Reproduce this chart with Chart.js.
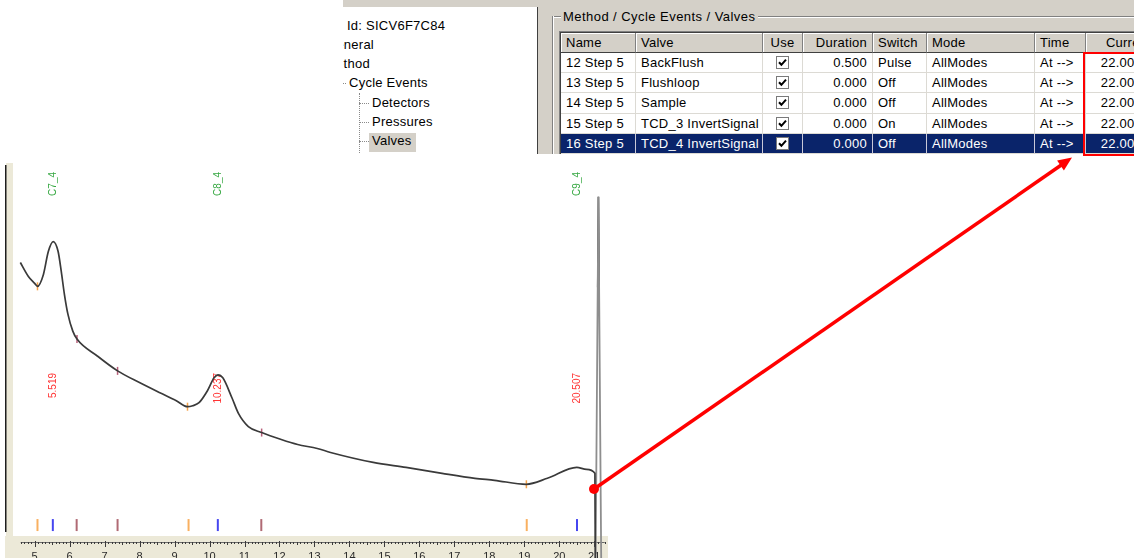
<!DOCTYPE html>
<html lang="en">
<head>
<meta charset="utf-8">
<title>Chromatogram – Method / Cycle Events / Valves</title>
<script src="https://cdn.jsdelivr.net/npm/chart.js@4.4.1/dist/chart.umd.min.js"></script>
<style>
  html, body { margin:0; padding:0; background:#fff; }
  body { position:relative; width:1134px; height:558px; overflow:hidden;
         font-family:"Liberation Sans", Arial, sans-serif; font-size:13px; color:#000; }
  .a { position:absolute; box-sizing:border-box; white-space:nowrap; }
  #dlg { left:343px; top:0; width:791px; height:154px; background:#d4d0c8; overflow:hidden; letter-spacing:0.25px; }
  #tree { left:0; top:7px; width:195px; height:147px; background:#fff; border-right:1px solid #404040; overflow:hidden; }
  .ti { line-height:16px; }
  .dv { border-left:1px dotted #8a8a8a; }
  .dh { border-top:1px dotted #8a8a8a; }
  .cell { display:flex; align-items:center; padding:0 5px; overflow:hidden; }
  #chartBox { left:5px; top:155px; width:611px; height:403px; }
  #redBox { left:1083px; top:52px; width:80px; height:104px; border:2px solid #ff0000; z-index:10; }
</style>
</head>
<body>

<div id="dlg" class="a">
  <div id="tree" class="a">
    <div class="a ti" style="left:4px;top:11px;">Id: SICV6F7C84</div>
    <div class="a ti" style="left:-17px;top:30px;">General</div>
    <div class="a ti" style="left:-18px;top:49px;">Method</div>
    <div class="a dh" style="left:0;top:76px;width:3px;height:1px;"></div>
    <div class="a ti" style="left:6px;top:68px;">Cycle Events</div>
    <div class="a dv" style="left:16px;top:86px;width:1px;height:70px;"></div>
    <div class="a dh" style="left:16px;top:96px;width:10px;height:1px;"></div>
    <div class="a dh" style="left:16px;top:115px;width:10px;height:1px;"></div>
    <div class="a dh" style="left:16px;top:134px;width:10px;height:1px;"></div>
    <div class="a" style="left:26px;top:126px;width:47px;height:19px;background:#d4d0c8;"></div>
    <div class="a ti" style="left:29px;top:88px;">Detectors</div>
    <div class="a ti" style="left:29px;top:107px;">Pressures</div>
    <div class="a ti" style="left:29px;top:126px;">Valves</div>
  </div>
  <!-- group box frame -->
  <div class="a" style="left:209px;top:16px;width:600px;height:2px;border-top:1px solid #808080;border-bottom:1px solid #fff;"></div>
  <div class="a" style="left:209px;top:16px;width:2px;height:150px;border-left:1px solid #808080;border-right:1px solid #fff;"></div>
  <div class="a ti" style="left:218px;top:9px;padding:0 3px 0 2px;background:#d4d0c8;letter-spacing:0.45px;">Method / Cycle Events / Valves</div>
  <!-- list view frame -->
  <div class="a" style="left:216px;top:31px;width:600px;height:130px;border-top:1px solid #808080;border-left:1px solid #808080;"></div>
  <div class="a" style="left:217px;top:32px;width:600px;height:130px;border-top:1px solid #404040;border-left:1px solid #404040;background:#fff;"></div>
</div>

<div id="chartBox" class="a"><canvas id="chrom" width="611" height="403" style="width:611px;height:403px;"></canvas></div>

<div id="redBox" class="a"></div>

<svg class="a" style="left:0;top:0;pointer-events:none;z-index:11;" width="1134" height="558">
  <line x1="594" y1="489" x2="1062" y2="164.5" stroke="#ff0000" stroke-width="3.5"/>
  <polygon points="1072,157.5 1057.1,160.6 1063.9,170.4" fill="#ff0000"/>
  <circle cx="594" cy="489" r="5" fill="#ff0000"/>
</svg>

<script>
// ---- valve event table ----
const tableHeaders = ['Name', 'Valve', 'Use', 'Duration', 'Switch', 'Mode', 'Time', 'Current'];
const stepNames    = ['12 Step 5', '13 Step 5', '14 Step 5', '15 Step 5', '16 Step 5'];
const valveNames   = ['BackFlush', 'Flushloop', 'Sample', 'TCD_3 InvertSignal', 'TCD_4 InvertSignal'];
const durations    = ['0.500', '0.000', '0.000', '0.000', '0.000'];
const switchStates = ['Pulse', 'Off', 'Off', 'On', 'Off'];
const modes        = ['AllModes', 'AllModes', 'AllModes', 'AllModes', 'AllModes'];
const timeRefs     = ['At -->', 'At -->', 'At -->', 'At -->', 'At -->'];
const currentTimes = ['22.000', '22.000', '22.000', '22.000', '22.000'];
const selectedRow  = 4;

// ---- chromatogram (time in min, detector signal) ----
const traceTime = [4.59, 4.82, 5.00, 5.08, 5.25, 5.39, 5.53, 5.67, 5.76, 5.85,
                   5.95, 6.09, 6.21, 6.79, 7.37, 8.01, 8.58, 9.05, 9.37, 9.52,
                   9.70, 9.94, 10.13, 10.24, 10.38, 10.64, 10.83, 11.11, 11.49, 12.05,
                   12.52, 13.08, 13.46, 14.68, 15.62, 16.65, 17.59, 18.15, 19.06, 19.66,
                   20.50, 20.78, 21.02, 21.03];
const traceSignal = [275, 261, 254, 251, 263, 286, 296, 286, 266, 243,
                     223, 206, 198, 181, 166, 154, 144, 136, 130, 131,
                     134, 146, 159, 162, 159, 139, 123, 110, 104, 97,
                     92, 88, 84, 74, 69, 63, 58, 56, 52, 58,
                     69, 67, 63, -24];
const spikeTime = [21.04, 21.12, 21.20];
const spikeSignal = [-25, 341, -25];
const spikeApexTime = [21.10, 21.12, 21.14];
const spikeApexSignal = [250, 341, 250];

const peakNames = ['C7_4', 'C8_4', 'C9_4'];
const peakTimes = [5.519, 10.237, 20.507];

const peakStartTimes = [5.08, 9.37, 19.06];
const peakStartSignal = [251, 130, 52];
const peakEndTimes = [6.21, 7.37, 11.49];
const peakEndSignal = [198, 166, 104];

const eventStartTimes = [5.08, 9.40, 19.07];
const eventEndTimes = [6.20, 7.37, 11.48];
const eventLevel = 11;

const timeMin = 4.38, timeMax = 21.394;
const signalMin = 0, signalMax = 375;

// ---- build the list view ----
(function buildTable() {
  const dlg = document.getElementById('dlg');
  const DX = 343;
  const colEdges = [561, 636, 763, 803, 873, 927, 1035, 1086, 1152];
  const colAlign = ['flex-start', 'flex-start', 'center', 'flex-end', 'flex-start', 'flex-start', 'flex-start', 'flex-end'];
  function el(x, y, w, h, style, text) {
    const d = document.createElement('div');
    d.className = 'a cell';
    Object.assign(d.style, { left: x + 'px', top: y + 'px', width: w + 'px', height: h + 'px' }, style);
    if (text != null) d.textContent = text;
    dlg.appendChild(d);
    return d;
  }
  tableHeaders.forEach((h, c) => {
    el(colEdges[c] - DX, 33, colEdges[c + 1] - colEdges[c], 19.5, {
      background: '#d4d0c8', borderRight: '1px solid #808080', borderBottom: '1px solid #404040',
      boxShadow: 'inset 1px 1px 0 #fff', justifyContent: colAlign[c],
      paddingRight: c === 7 ? '0px' : '5px'
    }, h);
  });
  const check = '<svg width="13" height="13"><rect x="0.5" y="0.5" width="12" height="12" fill="#fff" stroke="#7a7a7a"/>' +
                '<path d="M3 6.3 L5.4 8.8 L10 3.6" stroke="#000" stroke-width="2" fill="none"/></svg>';
  stepNames.forEach((name, i) => {
    const y = 52.5 + i * 20.4;
    const sel = i === selectedRow;
    const vals = [name, valveNames[i], null, durations[i], switchStates[i], modes[i], timeRefs[i], currentTimes[i]];
    vals.forEach((v, c) => {
      const d = el(colEdges[c] - DX, y, colEdges[c + 1] - colEdges[c], 20.4, {
        background: sel ? '#0a246a' : '#fff', color: sel ? '#fff' : '#000',
        borderRight: '1px solid ' + (sel ? '#c8c8d8' : '#dcdad4'),
        borderBottom: '1px solid #dcdad4', justifyContent: colAlign[c],
        paddingRight: c === 7 ? '9px' : '5px'
      }, v);
      if (c === 2) d.innerHTML = check;
    });
  });
})();

// ---- chart ----
const xy = (ts, vs) => ts.map((t, i) => ({ x: t, y: vs[i] }));
const level = ts => ts.map(t => ({ x: t, y: eventLevel }));

const frame = {
  id: 'frame',
  beforeDraw(chart) {
    const { ctx, chartArea: a, height } = chart;
    ctx.save();
    ctx.fillStyle = '#ece9d8';
    ctx.fillRect(0, a.bottom, a.right, height - a.bottom);
    ctx.fillRect(1, a.top, a.left - 1, a.bottom - a.top);
    ctx.fillStyle = '#1e1e1e';
    ctx.fillRect(0, a.top + 2, 1.5, a.bottom - a.top - 6);
    ctx.restore();
  }
};

const ruler = {
  id: 'ruler',
  beforeDatasetsDraw(chart) {
    const xs = chart.scales.x, a = chart.chartArea, ctx = chart.ctx;
    const y0 = a.bottom + 6;
    const x0 = xs.getPixelForValue(4.6), x1 = xs.getPixelForValue(21.3);
    ctx.save();
    ctx.strokeStyle = '#6a6a6a';
    ctx.lineWidth = 1;
    ctx.beginPath(); ctx.moveTo(x0, y0 + 0.5); ctx.lineTo(x1, y0 + 0.5); ctx.stroke();
    ctx.strokeStyle = '#3a3a3a';
    for (let k = 46; k <= 213; k++) {
      const x = Math.round(xs.getPixelForValue(k / 10)) + 0.5;
      const major = k % 10 === 0, half = k % 5 === 0;
      ctx.beginPath();
      ctx.moveTo(x, y0 - (major ? 1 : 0));
      ctx.lineTo(x, y0 + (major ? 5 : half ? 3 : 2));
      ctx.stroke();
    }
    // peak names and retention times, written upwards
    ctx.font = '10px "Liberation Sans", Arial, sans-serif';
    ctx.textAlign = 'right';
    ctx.textBaseline = 'middle';
    const put = (text, x, y, color) => {
      ctx.save(); ctx.translate(x, y); ctx.rotate(-Math.PI / 2);
      ctx.fillStyle = color; ctx.fillText(text, 0, 0); ctx.restore();
    };
    peakTimes.forEach((t, i) => {
      const x = xs.getPixelForValue(t);
      put(peakNames[i], x, a.top + 9, '#36a842');
      put(t.toFixed(3), x, a.top + 210, '#ff3434');
    });
    ctx.restore();
  }
};

const tick = (color, r, w) => ({
  showLine: false, pointStyle: 'line', rotation: 90, pointRadius: r,
  pointBorderWidth: w, pointBorderColor: color, borderColor: color, backgroundColor: color, clip: false
});

new Chart(document.getElementById('chrom'), {
  type: 'line',
  data: {
    datasets: [
      { data: xy(traceTime, traceSignal), borderColor: '#3a3a3a', borderWidth: 1.7, pointRadius: 0,
        cubicInterpolationMode: 'monotone', clip: false },
      { data: xy(spikeTime, spikeSignal), borderColor: '#8e8e8e', borderWidth: 1.8, pointRadius: 0, tension: 0, clip: false },
      { data: xy(spikeApexTime, spikeApexSignal), borderColor: '#2a2a2a', borderWidth: 1.6, pointRadius: 0, tension: 0, clip: false },
      Object.assign({ data: xy(peakStartTimes, peakStartSignal) }, tick('#f7a34a', 4, 1.5)),
      Object.assign({ data: xy(peakEndTimes, peakEndSignal) }, tick('#b8607a', 4, 1.5)),
      Object.assign({ data: level(eventStartTimes) }, tick('#f9b060', 6, 2)),
      Object.assign({ data: level(peakTimes) }, tick('#4646f0', 6, 2)),
      Object.assign({ data: level(eventEndTimes) }, tick('#b06a74', 6, 2))
    ]
  },
  options: {
    responsive: false,
    animation: false,
    events: [],
    layout: { padding: { left: 6, right: 1, top: 6, bottom: 0 } },
    plugins: { legend: { display: false }, tooltip: { enabled: false } },
    scales: {
      x: {
        type: 'linear', min: timeMin, max: timeMax,
        grid: { display: false, drawTicks: false },
        border: { display: false },
        ticks: {
          stepSize: 1, includeBounds: false, autoSkip: false, maxRotation: 0, padding: 14,
          color: '#2a2a2a', font: { family: 'Liberation Sans', size: 11 },
          callback: v => Number.isInteger(v) ? String(v) : ''
        },
        afterFit(s) { s.height = 22; }
      },
      y: { display: false, min: signalMin, max: signalMax }
    }
  },
  plugins: [frame, ruler]
});
</script>
</body>
</html>
